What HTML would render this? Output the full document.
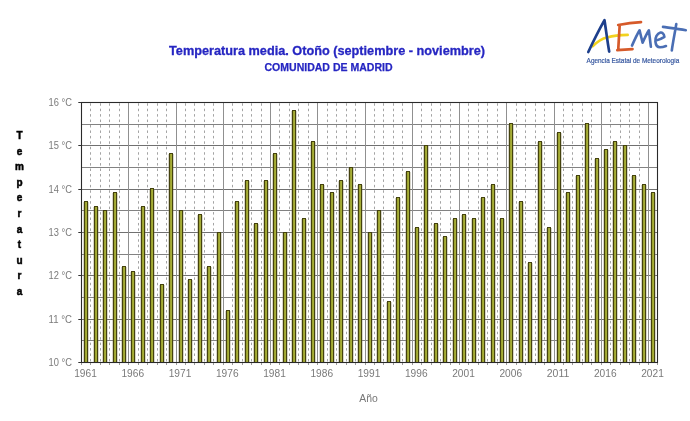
<!DOCTYPE html><html><head><meta charset="utf-8"><title>Temperatura media</title><style>html,body{margin:0;padding:0;background:#fff;width:690px;height:421px;overflow:hidden}svg{display:block;will-change:transform}text{font-family:"Liberation Sans",sans-serif}</style></head><body>
<svg width="690" height="421" viewBox="0 0 690 421">
<defs><linearGradient id="bg" x1="0" x2="1" y1="0" y2="0"><stop offset="0" stop-color="#86881f"/><stop offset="0.55" stop-color="#acb43c"/><stop offset="1" stop-color="#969e2e"/></linearGradient></defs>
<rect width="690" height="421" fill="#fff"/>
<text x="327" y="54.5" text-anchor="middle" font-weight="bold" font-size="12.7" fill="#2626c2" stroke="#2626c2" stroke-width="0.3" textLength="316" lengthAdjust="spacingAndGlyphs">Temperatura media. Otoño (septiembre - noviembre)</text>
<text x="328.5" y="70.8" text-anchor="middle" font-weight="bold" font-size="10.5" fill="#2626c2" stroke="#2626c2" stroke-width="0.25" textLength="128" lengthAdjust="spacingAndGlyphs">COMUNIDAD DE MADRID</text>
<line x1="81.0" x2="657.5" y1="340.50" y2="340.50" stroke="#828282" stroke-width="1"/>
<line x1="81.0" x2="657.5" y1="319.50" y2="319.50" stroke="#707070" stroke-width="1"/>
<line x1="81.0" x2="657.5" y1="297.50" y2="297.50" stroke="#828282" stroke-width="1"/>
<line x1="81.0" x2="657.5" y1="275.50" y2="275.50" stroke="#707070" stroke-width="1"/>
<line x1="81.0" x2="657.5" y1="254.50" y2="254.50" stroke="#828282" stroke-width="1"/>
<line x1="81.0" x2="657.5" y1="232.50" y2="232.50" stroke="#707070" stroke-width="1"/>
<line x1="81.0" x2="657.5" y1="210.50" y2="210.50" stroke="#828282" stroke-width="1"/>
<line x1="81.0" x2="657.5" y1="189.50" y2="189.50" stroke="#707070" stroke-width="1"/>
<line x1="81.0" x2="657.5" y1="167.50" y2="167.50" stroke="#828282" stroke-width="1"/>
<line x1="81.0" x2="657.5" y1="145.50" y2="145.50" stroke="#707070" stroke-width="1"/>
<line x1="81.0" x2="657.5" y1="124.50" y2="124.50" stroke="#828282" stroke-width="1"/>
<line x1="90.50" x2="90.50" y1="103.25" y2="362.5" stroke="#a4a4a4" stroke-width="1" stroke-dasharray="2.5 2.94"/>
<line x1="100.50" x2="100.50" y1="103.25" y2="362.5" stroke="#a4a4a4" stroke-width="1" stroke-dasharray="2.5 2.94"/>
<line x1="109.50" x2="109.50" y1="103.25" y2="362.5" stroke="#a4a4a4" stroke-width="1" stroke-dasharray="2.5 2.94"/>
<line x1="119.50" x2="119.50" y1="103.25" y2="362.5" stroke="#a4a4a4" stroke-width="1" stroke-dasharray="2.5 2.94"/>
<line x1="128.50" x2="128.50" y1="102.5" y2="362.5" stroke="#909090" stroke-width="1"/>
<line x1="138.50" x2="138.50" y1="103.25" y2="362.5" stroke="#a4a4a4" stroke-width="1" stroke-dasharray="2.5 2.94"/>
<line x1="147.50" x2="147.50" y1="103.25" y2="362.5" stroke="#a4a4a4" stroke-width="1" stroke-dasharray="2.5 2.94"/>
<line x1="157.50" x2="157.50" y1="103.25" y2="362.5" stroke="#a4a4a4" stroke-width="1" stroke-dasharray="2.5 2.94"/>
<line x1="166.50" x2="166.50" y1="103.25" y2="362.5" stroke="#a4a4a4" stroke-width="1" stroke-dasharray="2.5 2.94"/>
<line x1="176.50" x2="176.50" y1="102.5" y2="362.5" stroke="#909090" stroke-width="1"/>
<line x1="185.50" x2="185.50" y1="103.25" y2="362.5" stroke="#a4a4a4" stroke-width="1" stroke-dasharray="2.5 2.94"/>
<line x1="194.50" x2="194.50" y1="103.25" y2="362.5" stroke="#a4a4a4" stroke-width="1" stroke-dasharray="2.5 2.94"/>
<line x1="204.50" x2="204.50" y1="103.25" y2="362.5" stroke="#a4a4a4" stroke-width="1" stroke-dasharray="2.5 2.94"/>
<line x1="213.50" x2="213.50" y1="103.25" y2="362.5" stroke="#a4a4a4" stroke-width="1" stroke-dasharray="2.5 2.94"/>
<line x1="223.50" x2="223.50" y1="102.5" y2="362.5" stroke="#909090" stroke-width="1"/>
<line x1="232.50" x2="232.50" y1="103.25" y2="362.5" stroke="#a4a4a4" stroke-width="1" stroke-dasharray="2.5 2.94"/>
<line x1="242.50" x2="242.50" y1="103.25" y2="362.5" stroke="#a4a4a4" stroke-width="1" stroke-dasharray="2.5 2.94"/>
<line x1="251.50" x2="251.50" y1="103.25" y2="362.5" stroke="#a4a4a4" stroke-width="1" stroke-dasharray="2.5 2.94"/>
<line x1="261.50" x2="261.50" y1="103.25" y2="362.5" stroke="#a4a4a4" stroke-width="1" stroke-dasharray="2.5 2.94"/>
<line x1="270.50" x2="270.50" y1="102.5" y2="362.5" stroke="#909090" stroke-width="1"/>
<line x1="279.50" x2="279.50" y1="103.25" y2="362.5" stroke="#a4a4a4" stroke-width="1" stroke-dasharray="2.5 2.94"/>
<line x1="289.50" x2="289.50" y1="103.25" y2="362.5" stroke="#a4a4a4" stroke-width="1" stroke-dasharray="2.5 2.94"/>
<line x1="298.50" x2="298.50" y1="103.25" y2="362.5" stroke="#a4a4a4" stroke-width="1" stroke-dasharray="2.5 2.94"/>
<line x1="308.50" x2="308.50" y1="103.25" y2="362.5" stroke="#a4a4a4" stroke-width="1" stroke-dasharray="2.5 2.94"/>
<line x1="317.50" x2="317.50" y1="102.5" y2="362.5" stroke="#909090" stroke-width="1"/>
<line x1="327.50" x2="327.50" y1="103.25" y2="362.5" stroke="#a4a4a4" stroke-width="1" stroke-dasharray="2.5 2.94"/>
<line x1="336.50" x2="336.50" y1="103.25" y2="362.5" stroke="#a4a4a4" stroke-width="1" stroke-dasharray="2.5 2.94"/>
<line x1="346.50" x2="346.50" y1="103.25" y2="362.5" stroke="#a4a4a4" stroke-width="1" stroke-dasharray="2.5 2.94"/>
<line x1="355.50" x2="355.50" y1="103.25" y2="362.5" stroke="#a4a4a4" stroke-width="1" stroke-dasharray="2.5 2.94"/>
<line x1="365.50" x2="365.50" y1="102.5" y2="362.5" stroke="#909090" stroke-width="1"/>
<line x1="374.50" x2="374.50" y1="103.25" y2="362.5" stroke="#a4a4a4" stroke-width="1" stroke-dasharray="2.5 2.94"/>
<line x1="383.50" x2="383.50" y1="103.25" y2="362.5" stroke="#a4a4a4" stroke-width="1" stroke-dasharray="2.5 2.94"/>
<line x1="393.50" x2="393.50" y1="103.25" y2="362.5" stroke="#a4a4a4" stroke-width="1" stroke-dasharray="2.5 2.94"/>
<line x1="402.50" x2="402.50" y1="103.25" y2="362.5" stroke="#a4a4a4" stroke-width="1" stroke-dasharray="2.5 2.94"/>
<line x1="412.50" x2="412.50" y1="102.5" y2="362.5" stroke="#909090" stroke-width="1"/>
<line x1="421.50" x2="421.50" y1="103.25" y2="362.5" stroke="#a4a4a4" stroke-width="1" stroke-dasharray="2.5 2.94"/>
<line x1="431.50" x2="431.50" y1="103.25" y2="362.5" stroke="#a4a4a4" stroke-width="1" stroke-dasharray="2.5 2.94"/>
<line x1="440.50" x2="440.50" y1="103.25" y2="362.5" stroke="#a4a4a4" stroke-width="1" stroke-dasharray="2.5 2.94"/>
<line x1="450.50" x2="450.50" y1="103.25" y2="362.5" stroke="#a4a4a4" stroke-width="1" stroke-dasharray="2.5 2.94"/>
<line x1="459.50" x2="459.50" y1="102.5" y2="362.5" stroke="#909090" stroke-width="1"/>
<line x1="468.50" x2="468.50" y1="103.25" y2="362.5" stroke="#a4a4a4" stroke-width="1" stroke-dasharray="2.5 2.94"/>
<line x1="478.50" x2="478.50" y1="103.25" y2="362.5" stroke="#a4a4a4" stroke-width="1" stroke-dasharray="2.5 2.94"/>
<line x1="487.50" x2="487.50" y1="103.25" y2="362.5" stroke="#a4a4a4" stroke-width="1" stroke-dasharray="2.5 2.94"/>
<line x1="497.50" x2="497.50" y1="103.25" y2="362.5" stroke="#a4a4a4" stroke-width="1" stroke-dasharray="2.5 2.94"/>
<line x1="506.50" x2="506.50" y1="102.5" y2="362.5" stroke="#909090" stroke-width="1"/>
<line x1="516.50" x2="516.50" y1="103.25" y2="362.5" stroke="#a4a4a4" stroke-width="1" stroke-dasharray="2.5 2.94"/>
<line x1="525.50" x2="525.50" y1="103.25" y2="362.5" stroke="#a4a4a4" stroke-width="1" stroke-dasharray="2.5 2.94"/>
<line x1="535.50" x2="535.50" y1="103.25" y2="362.5" stroke="#a4a4a4" stroke-width="1" stroke-dasharray="2.5 2.94"/>
<line x1="544.50" x2="544.50" y1="103.25" y2="362.5" stroke="#a4a4a4" stroke-width="1" stroke-dasharray="2.5 2.94"/>
<line x1="554.50" x2="554.50" y1="102.5" y2="362.5" stroke="#909090" stroke-width="1"/>
<line x1="563.50" x2="563.50" y1="103.25" y2="362.5" stroke="#a4a4a4" stroke-width="1" stroke-dasharray="2.5 2.94"/>
<line x1="572.50" x2="572.50" y1="103.25" y2="362.5" stroke="#a4a4a4" stroke-width="1" stroke-dasharray="2.5 2.94"/>
<line x1="582.50" x2="582.50" y1="103.25" y2="362.5" stroke="#a4a4a4" stroke-width="1" stroke-dasharray="2.5 2.94"/>
<line x1="591.50" x2="591.50" y1="103.25" y2="362.5" stroke="#a4a4a4" stroke-width="1" stroke-dasharray="2.5 2.94"/>
<line x1="601.50" x2="601.50" y1="102.5" y2="362.5" stroke="#909090" stroke-width="1"/>
<line x1="610.50" x2="610.50" y1="103.25" y2="362.5" stroke="#a4a4a4" stroke-width="1" stroke-dasharray="2.5 2.94"/>
<line x1="620.50" x2="620.50" y1="103.25" y2="362.5" stroke="#a4a4a4" stroke-width="1" stroke-dasharray="2.5 2.94"/>
<line x1="629.50" x2="629.50" y1="103.25" y2="362.5" stroke="#a4a4a4" stroke-width="1" stroke-dasharray="2.5 2.94"/>
<line x1="639.50" x2="639.50" y1="103.25" y2="362.5" stroke="#a4a4a4" stroke-width="1" stroke-dasharray="2.5 2.94"/>
<line x1="648.50" x2="648.50" y1="102.5" y2="362.5" stroke="#909090" stroke-width="1"/>
<line x1="81.50" x2="81.50" y1="362.5" y2="365.0" stroke="#9a9a9a" stroke-width="1"/>
<line x1="90.50" x2="90.50" y1="362.5" y2="365.0" stroke="#9a9a9a" stroke-width="1"/>
<line x1="100.50" x2="100.50" y1="362.5" y2="365.0" stroke="#9a9a9a" stroke-width="1"/>
<line x1="109.50" x2="109.50" y1="362.5" y2="365.0" stroke="#9a9a9a" stroke-width="1"/>
<line x1="119.50" x2="119.50" y1="362.5" y2="365.0" stroke="#9a9a9a" stroke-width="1"/>
<line x1="128.50" x2="128.50" y1="362.5" y2="365.0" stroke="#9a9a9a" stroke-width="1"/>
<line x1="138.50" x2="138.50" y1="362.5" y2="365.0" stroke="#9a9a9a" stroke-width="1"/>
<line x1="147.50" x2="147.50" y1="362.5" y2="365.0" stroke="#9a9a9a" stroke-width="1"/>
<line x1="157.50" x2="157.50" y1="362.5" y2="365.0" stroke="#9a9a9a" stroke-width="1"/>
<line x1="166.50" x2="166.50" y1="362.5" y2="365.0" stroke="#9a9a9a" stroke-width="1"/>
<line x1="176.50" x2="176.50" y1="362.5" y2="365.0" stroke="#9a9a9a" stroke-width="1"/>
<line x1="185.50" x2="185.50" y1="362.5" y2="365.0" stroke="#9a9a9a" stroke-width="1"/>
<line x1="194.50" x2="194.50" y1="362.5" y2="365.0" stroke="#9a9a9a" stroke-width="1"/>
<line x1="204.50" x2="204.50" y1="362.5" y2="365.0" stroke="#9a9a9a" stroke-width="1"/>
<line x1="213.50" x2="213.50" y1="362.5" y2="365.0" stroke="#9a9a9a" stroke-width="1"/>
<line x1="223.50" x2="223.50" y1="362.5" y2="365.0" stroke="#9a9a9a" stroke-width="1"/>
<line x1="232.50" x2="232.50" y1="362.5" y2="365.0" stroke="#9a9a9a" stroke-width="1"/>
<line x1="242.50" x2="242.50" y1="362.5" y2="365.0" stroke="#9a9a9a" stroke-width="1"/>
<line x1="251.50" x2="251.50" y1="362.5" y2="365.0" stroke="#9a9a9a" stroke-width="1"/>
<line x1="261.50" x2="261.50" y1="362.5" y2="365.0" stroke="#9a9a9a" stroke-width="1"/>
<line x1="270.50" x2="270.50" y1="362.5" y2="365.0" stroke="#9a9a9a" stroke-width="1"/>
<line x1="279.50" x2="279.50" y1="362.5" y2="365.0" stroke="#9a9a9a" stroke-width="1"/>
<line x1="289.50" x2="289.50" y1="362.5" y2="365.0" stroke="#9a9a9a" stroke-width="1"/>
<line x1="298.50" x2="298.50" y1="362.5" y2="365.0" stroke="#9a9a9a" stroke-width="1"/>
<line x1="308.50" x2="308.50" y1="362.5" y2="365.0" stroke="#9a9a9a" stroke-width="1"/>
<line x1="317.50" x2="317.50" y1="362.5" y2="365.0" stroke="#9a9a9a" stroke-width="1"/>
<line x1="327.50" x2="327.50" y1="362.5" y2="365.0" stroke="#9a9a9a" stroke-width="1"/>
<line x1="336.50" x2="336.50" y1="362.5" y2="365.0" stroke="#9a9a9a" stroke-width="1"/>
<line x1="346.50" x2="346.50" y1="362.5" y2="365.0" stroke="#9a9a9a" stroke-width="1"/>
<line x1="355.50" x2="355.50" y1="362.5" y2="365.0" stroke="#9a9a9a" stroke-width="1"/>
<line x1="365.50" x2="365.50" y1="362.5" y2="365.0" stroke="#9a9a9a" stroke-width="1"/>
<line x1="374.50" x2="374.50" y1="362.5" y2="365.0" stroke="#9a9a9a" stroke-width="1"/>
<line x1="383.50" x2="383.50" y1="362.5" y2="365.0" stroke="#9a9a9a" stroke-width="1"/>
<line x1="393.50" x2="393.50" y1="362.5" y2="365.0" stroke="#9a9a9a" stroke-width="1"/>
<line x1="402.50" x2="402.50" y1="362.5" y2="365.0" stroke="#9a9a9a" stroke-width="1"/>
<line x1="412.50" x2="412.50" y1="362.5" y2="365.0" stroke="#9a9a9a" stroke-width="1"/>
<line x1="421.50" x2="421.50" y1="362.5" y2="365.0" stroke="#9a9a9a" stroke-width="1"/>
<line x1="431.50" x2="431.50" y1="362.5" y2="365.0" stroke="#9a9a9a" stroke-width="1"/>
<line x1="440.50" x2="440.50" y1="362.5" y2="365.0" stroke="#9a9a9a" stroke-width="1"/>
<line x1="450.50" x2="450.50" y1="362.5" y2="365.0" stroke="#9a9a9a" stroke-width="1"/>
<line x1="459.50" x2="459.50" y1="362.5" y2="365.0" stroke="#9a9a9a" stroke-width="1"/>
<line x1="468.50" x2="468.50" y1="362.5" y2="365.0" stroke="#9a9a9a" stroke-width="1"/>
<line x1="478.50" x2="478.50" y1="362.5" y2="365.0" stroke="#9a9a9a" stroke-width="1"/>
<line x1="487.50" x2="487.50" y1="362.5" y2="365.0" stroke="#9a9a9a" stroke-width="1"/>
<line x1="497.50" x2="497.50" y1="362.5" y2="365.0" stroke="#9a9a9a" stroke-width="1"/>
<line x1="506.50" x2="506.50" y1="362.5" y2="365.0" stroke="#9a9a9a" stroke-width="1"/>
<line x1="516.50" x2="516.50" y1="362.5" y2="365.0" stroke="#9a9a9a" stroke-width="1"/>
<line x1="525.50" x2="525.50" y1="362.5" y2="365.0" stroke="#9a9a9a" stroke-width="1"/>
<line x1="535.50" x2="535.50" y1="362.5" y2="365.0" stroke="#9a9a9a" stroke-width="1"/>
<line x1="544.50" x2="544.50" y1="362.5" y2="365.0" stroke="#9a9a9a" stroke-width="1"/>
<line x1="554.50" x2="554.50" y1="362.5" y2="365.0" stroke="#9a9a9a" stroke-width="1"/>
<line x1="563.50" x2="563.50" y1="362.5" y2="365.0" stroke="#9a9a9a" stroke-width="1"/>
<line x1="572.50" x2="572.50" y1="362.5" y2="365.0" stroke="#9a9a9a" stroke-width="1"/>
<line x1="582.50" x2="582.50" y1="362.5" y2="365.0" stroke="#9a9a9a" stroke-width="1"/>
<line x1="591.50" x2="591.50" y1="362.5" y2="365.0" stroke="#9a9a9a" stroke-width="1"/>
<line x1="601.50" x2="601.50" y1="362.5" y2="365.0" stroke="#9a9a9a" stroke-width="1"/>
<line x1="610.50" x2="610.50" y1="362.5" y2="365.0" stroke="#9a9a9a" stroke-width="1"/>
<line x1="620.50" x2="620.50" y1="362.5" y2="365.0" stroke="#9a9a9a" stroke-width="1"/>
<line x1="629.50" x2="629.50" y1="362.5" y2="365.0" stroke="#9a9a9a" stroke-width="1"/>
<line x1="639.50" x2="639.50" y1="362.5" y2="365.0" stroke="#9a9a9a" stroke-width="1"/>
<line x1="648.50" x2="648.50" y1="362.5" y2="365.0" stroke="#9a9a9a" stroke-width="1"/>
<line x1="657.50" x2="657.50" y1="362.5" y2="365.0" stroke="#9a9a9a" stroke-width="1"/>
<rect x="83" y="202" width="6" height="160.50" fill="#7a7450" fill-opacity="0.3"/>
<rect x="84.5" y="201.5" width="3" height="161.00" fill="url(#bg)" stroke="#44420e" stroke-width="1"/>
<rect x="93" y="207" width="6" height="155.50" fill="#7a7450" fill-opacity="0.3"/>
<rect x="94.5" y="206.5" width="3" height="156.00" fill="url(#bg)" stroke="#44420e" stroke-width="1"/>
<rect x="102" y="211" width="6" height="151.50" fill="#7a7450" fill-opacity="0.3"/>
<rect x="103.5" y="210.5" width="3" height="152.00" fill="url(#bg)" stroke="#44420e" stroke-width="1"/>
<rect x="112" y="193" width="6" height="169.50" fill="#7a7450" fill-opacity="0.3"/>
<rect x="113.5" y="192.5" width="3" height="170.00" fill="url(#bg)" stroke="#44420e" stroke-width="1"/>
<rect x="121" y="267" width="6" height="95.50" fill="#7a7450" fill-opacity="0.3"/>
<rect x="122.5" y="266.5" width="3" height="96.00" fill="url(#bg)" stroke="#44420e" stroke-width="1"/>
<rect x="130" y="272" width="6" height="90.50" fill="#7a7450" fill-opacity="0.3"/>
<rect x="131.5" y="271.5" width="3" height="91.00" fill="url(#bg)" stroke="#44420e" stroke-width="1"/>
<rect x="140" y="207" width="6" height="155.50" fill="#7a7450" fill-opacity="0.3"/>
<rect x="141.5" y="206.5" width="3" height="156.00" fill="url(#bg)" stroke="#44420e" stroke-width="1"/>
<rect x="149" y="189" width="6" height="173.50" fill="#7a7450" fill-opacity="0.3"/>
<rect x="150.5" y="188.5" width="3" height="174.00" fill="url(#bg)" stroke="#44420e" stroke-width="1"/>
<rect x="159" y="285" width="6" height="77.50" fill="#7a7450" fill-opacity="0.3"/>
<rect x="160.5" y="284.5" width="3" height="78.00" fill="url(#bg)" stroke="#44420e" stroke-width="1"/>
<rect x="168" y="154" width="6" height="208.50" fill="#7a7450" fill-opacity="0.3"/>
<rect x="169.5" y="153.5" width="3" height="209.00" fill="url(#bg)" stroke="#44420e" stroke-width="1"/>
<rect x="178" y="211" width="6" height="151.50" fill="#7a7450" fill-opacity="0.3"/>
<rect x="179.5" y="210.5" width="3" height="152.00" fill="url(#bg)" stroke="#44420e" stroke-width="1"/>
<rect x="187" y="280" width="6" height="82.50" fill="#7a7450" fill-opacity="0.3"/>
<rect x="188.5" y="279.5" width="3" height="83.00" fill="url(#bg)" stroke="#44420e" stroke-width="1"/>
<rect x="197" y="215" width="6" height="147.50" fill="#7a7450" fill-opacity="0.3"/>
<rect x="198.5" y="214.5" width="3" height="148.00" fill="url(#bg)" stroke="#44420e" stroke-width="1"/>
<rect x="206" y="267" width="6" height="95.50" fill="#7a7450" fill-opacity="0.3"/>
<rect x="207.5" y="266.5" width="3" height="96.00" fill="url(#bg)" stroke="#44420e" stroke-width="1"/>
<rect x="216" y="233" width="6" height="129.50" fill="#7a7450" fill-opacity="0.3"/>
<rect x="217.5" y="232.5" width="3" height="130.00" fill="url(#bg)" stroke="#44420e" stroke-width="1"/>
<rect x="225" y="311" width="6" height="51.50" fill="#7a7450" fill-opacity="0.3"/>
<rect x="226.5" y="310.5" width="3" height="52.00" fill="url(#bg)" stroke="#44420e" stroke-width="1"/>
<rect x="234" y="202" width="6" height="160.50" fill="#7a7450" fill-opacity="0.3"/>
<rect x="235.5" y="201.5" width="3" height="161.00" fill="url(#bg)" stroke="#44420e" stroke-width="1"/>
<rect x="244" y="181" width="6" height="181.50" fill="#7a7450" fill-opacity="0.3"/>
<rect x="245.5" y="180.5" width="3" height="182.00" fill="url(#bg)" stroke="#44420e" stroke-width="1"/>
<rect x="253" y="224" width="6" height="138.50" fill="#7a7450" fill-opacity="0.3"/>
<rect x="254.5" y="223.5" width="3" height="139.00" fill="url(#bg)" stroke="#44420e" stroke-width="1"/>
<rect x="263" y="181" width="6" height="181.50" fill="#7a7450" fill-opacity="0.3"/>
<rect x="264.5" y="180.5" width="3" height="182.00" fill="url(#bg)" stroke="#44420e" stroke-width="1"/>
<rect x="272" y="154" width="6" height="208.50" fill="#7a7450" fill-opacity="0.3"/>
<rect x="273.5" y="153.5" width="3" height="209.00" fill="url(#bg)" stroke="#44420e" stroke-width="1"/>
<rect x="282" y="233" width="6" height="129.50" fill="#7a7450" fill-opacity="0.3"/>
<rect x="283.5" y="232.5" width="3" height="130.00" fill="url(#bg)" stroke="#44420e" stroke-width="1"/>
<rect x="291" y="111" width="6" height="251.50" fill="#7a7450" fill-opacity="0.3"/>
<rect x="292.5" y="110.5" width="3" height="252.00" fill="url(#bg)" stroke="#44420e" stroke-width="1"/>
<rect x="301" y="219" width="6" height="143.50" fill="#7a7450" fill-opacity="0.3"/>
<rect x="302.5" y="218.5" width="3" height="144.00" fill="url(#bg)" stroke="#44420e" stroke-width="1"/>
<rect x="310" y="142" width="6" height="220.50" fill="#7a7450" fill-opacity="0.3"/>
<rect x="311.5" y="141.5" width="3" height="221.00" fill="url(#bg)" stroke="#44420e" stroke-width="1"/>
<rect x="319" y="185" width="6" height="177.50" fill="#7a7450" fill-opacity="0.3"/>
<rect x="320.5" y="184.5" width="3" height="178.00" fill="url(#bg)" stroke="#44420e" stroke-width="1"/>
<rect x="329" y="193" width="6" height="169.50" fill="#7a7450" fill-opacity="0.3"/>
<rect x="330.5" y="192.5" width="3" height="170.00" fill="url(#bg)" stroke="#44420e" stroke-width="1"/>
<rect x="338" y="181" width="6" height="181.50" fill="#7a7450" fill-opacity="0.3"/>
<rect x="339.5" y="180.5" width="3" height="182.00" fill="url(#bg)" stroke="#44420e" stroke-width="1"/>
<rect x="348" y="168" width="6" height="194.50" fill="#7a7450" fill-opacity="0.3"/>
<rect x="349.5" y="167.5" width="3" height="195.00" fill="url(#bg)" stroke="#44420e" stroke-width="1"/>
<rect x="357" y="185" width="6" height="177.50" fill="#7a7450" fill-opacity="0.3"/>
<rect x="358.5" y="184.5" width="3" height="178.00" fill="url(#bg)" stroke="#44420e" stroke-width="1"/>
<rect x="367" y="233" width="6" height="129.50" fill="#7a7450" fill-opacity="0.3"/>
<rect x="368.5" y="232.5" width="3" height="130.00" fill="url(#bg)" stroke="#44420e" stroke-width="1"/>
<rect x="376" y="211" width="6" height="151.50" fill="#7a7450" fill-opacity="0.3"/>
<rect x="377.5" y="210.5" width="3" height="152.00" fill="url(#bg)" stroke="#44420e" stroke-width="1"/>
<rect x="386" y="302" width="6" height="60.50" fill="#7a7450" fill-opacity="0.3"/>
<rect x="387.5" y="301.5" width="3" height="61.00" fill="url(#bg)" stroke="#44420e" stroke-width="1"/>
<rect x="395" y="198" width="6" height="164.50" fill="#7a7450" fill-opacity="0.3"/>
<rect x="396.5" y="197.5" width="3" height="165.00" fill="url(#bg)" stroke="#44420e" stroke-width="1"/>
<rect x="405" y="172" width="6" height="190.50" fill="#7a7450" fill-opacity="0.3"/>
<rect x="406.5" y="171.5" width="3" height="191.00" fill="url(#bg)" stroke="#44420e" stroke-width="1"/>
<rect x="414" y="228" width="6" height="134.50" fill="#7a7450" fill-opacity="0.3"/>
<rect x="415.5" y="227.5" width="3" height="135.00" fill="url(#bg)" stroke="#44420e" stroke-width="1"/>
<rect x="423" y="146" width="6" height="216.50" fill="#7a7450" fill-opacity="0.3"/>
<rect x="424.5" y="145.5" width="3" height="217.00" fill="url(#bg)" stroke="#44420e" stroke-width="1"/>
<rect x="433" y="224" width="6" height="138.50" fill="#7a7450" fill-opacity="0.3"/>
<rect x="434.5" y="223.5" width="3" height="139.00" fill="url(#bg)" stroke="#44420e" stroke-width="1"/>
<rect x="442" y="237" width="6" height="125.50" fill="#7a7450" fill-opacity="0.3"/>
<rect x="443.5" y="236.5" width="3" height="126.00" fill="url(#bg)" stroke="#44420e" stroke-width="1"/>
<rect x="452" y="219" width="6" height="143.50" fill="#7a7450" fill-opacity="0.3"/>
<rect x="453.5" y="218.5" width="3" height="144.00" fill="url(#bg)" stroke="#44420e" stroke-width="1"/>
<rect x="461" y="215" width="6" height="147.50" fill="#7a7450" fill-opacity="0.3"/>
<rect x="462.5" y="214.5" width="3" height="148.00" fill="url(#bg)" stroke="#44420e" stroke-width="1"/>
<rect x="471" y="219" width="6" height="143.50" fill="#7a7450" fill-opacity="0.3"/>
<rect x="472.5" y="218.5" width="3" height="144.00" fill="url(#bg)" stroke="#44420e" stroke-width="1"/>
<rect x="480" y="198" width="6" height="164.50" fill="#7a7450" fill-opacity="0.3"/>
<rect x="481.5" y="197.5" width="3" height="165.00" fill="url(#bg)" stroke="#44420e" stroke-width="1"/>
<rect x="490" y="185" width="6" height="177.50" fill="#7a7450" fill-opacity="0.3"/>
<rect x="491.5" y="184.5" width="3" height="178.00" fill="url(#bg)" stroke="#44420e" stroke-width="1"/>
<rect x="499" y="219" width="6" height="143.50" fill="#7a7450" fill-opacity="0.3"/>
<rect x="500.5" y="218.5" width="3" height="144.00" fill="url(#bg)" stroke="#44420e" stroke-width="1"/>
<rect x="508" y="124" width="6" height="238.50" fill="#7a7450" fill-opacity="0.3"/>
<rect x="509.5" y="123.5" width="3" height="239.00" fill="url(#bg)" stroke="#44420e" stroke-width="1"/>
<rect x="518" y="202" width="6" height="160.50" fill="#7a7450" fill-opacity="0.3"/>
<rect x="519.5" y="201.5" width="3" height="161.00" fill="url(#bg)" stroke="#44420e" stroke-width="1"/>
<rect x="527" y="263" width="6" height="99.50" fill="#7a7450" fill-opacity="0.3"/>
<rect x="528.5" y="262.5" width="3" height="100.00" fill="url(#bg)" stroke="#44420e" stroke-width="1"/>
<rect x="537" y="142" width="6" height="220.50" fill="#7a7450" fill-opacity="0.3"/>
<rect x="538.5" y="141.5" width="3" height="221.00" fill="url(#bg)" stroke="#44420e" stroke-width="1"/>
<rect x="546" y="228" width="6" height="134.50" fill="#7a7450" fill-opacity="0.3"/>
<rect x="547.5" y="227.5" width="3" height="135.00" fill="url(#bg)" stroke="#44420e" stroke-width="1"/>
<rect x="556" y="133" width="6" height="229.50" fill="#7a7450" fill-opacity="0.3"/>
<rect x="557.5" y="132.5" width="3" height="230.00" fill="url(#bg)" stroke="#44420e" stroke-width="1"/>
<rect x="565" y="193" width="6" height="169.50" fill="#7a7450" fill-opacity="0.3"/>
<rect x="566.5" y="192.5" width="3" height="170.00" fill="url(#bg)" stroke="#44420e" stroke-width="1"/>
<rect x="575" y="176" width="6" height="186.50" fill="#7a7450" fill-opacity="0.3"/>
<rect x="576.5" y="175.5" width="3" height="187.00" fill="url(#bg)" stroke="#44420e" stroke-width="1"/>
<rect x="584" y="124" width="6" height="238.50" fill="#7a7450" fill-opacity="0.3"/>
<rect x="585.5" y="123.5" width="3" height="239.00" fill="url(#bg)" stroke="#44420e" stroke-width="1"/>
<rect x="594" y="159" width="6" height="203.50" fill="#7a7450" fill-opacity="0.3"/>
<rect x="595.5" y="158.5" width="3" height="204.00" fill="url(#bg)" stroke="#44420e" stroke-width="1"/>
<rect x="603" y="150" width="6" height="212.50" fill="#7a7450" fill-opacity="0.3"/>
<rect x="604.5" y="149.5" width="3" height="213.00" fill="url(#bg)" stroke="#44420e" stroke-width="1"/>
<rect x="612" y="142" width="6" height="220.50" fill="#7a7450" fill-opacity="0.3"/>
<rect x="613.5" y="141.5" width="3" height="221.00" fill="url(#bg)" stroke="#44420e" stroke-width="1"/>
<rect x="622" y="146" width="6" height="216.50" fill="#7a7450" fill-opacity="0.3"/>
<rect x="623.5" y="145.5" width="3" height="217.00" fill="url(#bg)" stroke="#44420e" stroke-width="1"/>
<rect x="631" y="176" width="6" height="186.50" fill="#7a7450" fill-opacity="0.3"/>
<rect x="632.5" y="175.5" width="3" height="187.00" fill="url(#bg)" stroke="#44420e" stroke-width="1"/>
<rect x="641" y="185" width="6" height="177.50" fill="#7a7450" fill-opacity="0.3"/>
<rect x="642.5" y="184.5" width="3" height="178.00" fill="url(#bg)" stroke="#44420e" stroke-width="1"/>
<rect x="650" y="193" width="6" height="169.50" fill="#7a7450" fill-opacity="0.3"/>
<rect x="651.5" y="192.5" width="3" height="170.00" fill="url(#bg)" stroke="#44420e" stroke-width="1"/>
<rect x="81.5" y="102.5" width="576.0" height="260.0" fill="none" stroke="#2a2a2a" stroke-width="1.1"/>
<line x1="78.3" x2="81.5" y1="362.50" y2="362.50" stroke="#333" stroke-width="1"/>
<text x="72" y="366.30" text-anchor="end" font-size="10.5" fill="#7a7a7a" textLength="23.4" lengthAdjust="spacingAndGlyphs">10 °C</text>
<line x1="78.3" x2="81.5" y1="319.50" y2="319.50" stroke="#333" stroke-width="1"/>
<text x="72" y="323.30" text-anchor="end" font-size="10.5" fill="#7a7a7a" textLength="23.4" lengthAdjust="spacingAndGlyphs">11 °C</text>
<line x1="78.3" x2="81.5" y1="275.50" y2="275.50" stroke="#333" stroke-width="1"/>
<text x="72" y="279.30" text-anchor="end" font-size="10.5" fill="#7a7a7a" textLength="23.4" lengthAdjust="spacingAndGlyphs">12 °C</text>
<line x1="78.3" x2="81.5" y1="232.50" y2="232.50" stroke="#333" stroke-width="1"/>
<text x="72" y="236.30" text-anchor="end" font-size="10.5" fill="#7a7a7a" textLength="23.4" lengthAdjust="spacingAndGlyphs">13 °C</text>
<line x1="78.3" x2="81.5" y1="189.50" y2="189.50" stroke="#333" stroke-width="1"/>
<text x="72" y="193.30" text-anchor="end" font-size="10.5" fill="#7a7a7a" textLength="23.4" lengthAdjust="spacingAndGlyphs">14 °C</text>
<line x1="78.3" x2="81.5" y1="145.50" y2="145.50" stroke="#333" stroke-width="1"/>
<text x="72" y="149.30" text-anchor="end" font-size="10.5" fill="#7a7a7a" textLength="23.4" lengthAdjust="spacingAndGlyphs">15 °C</text>
<line x1="78.3" x2="81.5" y1="102.50" y2="102.50" stroke="#333" stroke-width="1"/>
<text x="72" y="106.30" text-anchor="end" font-size="10.5" fill="#7a7a7a" textLength="23.4" lengthAdjust="spacingAndGlyphs">16 °C</text>
<text x="85.52" y="377.4" text-anchor="middle" font-size="11.8" fill="#7a7a7a" textLength="22.6" lengthAdjust="spacingAndGlyphs">1961</text>
<text x="132.78" y="377.4" text-anchor="middle" font-size="11.8" fill="#7a7a7a" textLength="22.6" lengthAdjust="spacingAndGlyphs">1966</text>
<text x="180.03" y="377.4" text-anchor="middle" font-size="11.8" fill="#7a7a7a" textLength="22.6" lengthAdjust="spacingAndGlyphs">1971</text>
<text x="227.28" y="377.4" text-anchor="middle" font-size="11.8" fill="#7a7a7a" textLength="22.6" lengthAdjust="spacingAndGlyphs">1976</text>
<text x="274.53" y="377.4" text-anchor="middle" font-size="11.8" fill="#7a7a7a" textLength="22.6" lengthAdjust="spacingAndGlyphs">1981</text>
<text x="321.78" y="377.4" text-anchor="middle" font-size="11.8" fill="#7a7a7a" textLength="22.6" lengthAdjust="spacingAndGlyphs">1986</text>
<text x="369.02" y="377.4" text-anchor="middle" font-size="11.8" fill="#7a7a7a" textLength="22.6" lengthAdjust="spacingAndGlyphs">1991</text>
<text x="416.27" y="377.4" text-anchor="middle" font-size="11.8" fill="#7a7a7a" textLength="22.6" lengthAdjust="spacingAndGlyphs">1996</text>
<text x="463.52" y="377.4" text-anchor="middle" font-size="11.8" fill="#7a7a7a" textLength="22.6" lengthAdjust="spacingAndGlyphs">2001</text>
<text x="510.77" y="377.4" text-anchor="middle" font-size="11.8" fill="#7a7a7a" textLength="22.6" lengthAdjust="spacingAndGlyphs">2006</text>
<text x="558.02" y="377.4" text-anchor="middle" font-size="11.8" fill="#7a7a7a" textLength="22.6" lengthAdjust="spacingAndGlyphs">2011</text>
<text x="605.27" y="377.4" text-anchor="middle" font-size="11.8" fill="#7a7a7a" textLength="22.6" lengthAdjust="spacingAndGlyphs">2016</text>
<text x="652.52" y="377.4" text-anchor="middle" font-size="11.8" fill="#7a7a7a" textLength="22.6" lengthAdjust="spacingAndGlyphs">2021</text>
<text x="368.5" y="401.7" text-anchor="middle" font-size="11" fill="#777" textLength="18.5" lengthAdjust="spacingAndGlyphs">Año</text>
<text x="0" y="139.30" transform="translate(19.5,0) scale(0.95,1)" text-anchor="middle" font-weight="bold" font-size="10.5" fill="#000" stroke="#000" stroke-width="0.5">T</text>
<text x="0" y="154.85" transform="translate(19.5,0) scale(0.95,1)" text-anchor="middle" font-weight="bold" font-size="10.5" fill="#000" stroke="#000" stroke-width="0.5">e</text>
<text x="0" y="170.40" transform="translate(19.5,0) scale(0.95,1)" text-anchor="middle" font-weight="bold" font-size="10.5" fill="#000" stroke="#000" stroke-width="0.5">m</text>
<text x="0" y="185.95" transform="translate(19.5,0) scale(0.95,1)" text-anchor="middle" font-weight="bold" font-size="10.5" fill="#000" stroke="#000" stroke-width="0.5">p</text>
<text x="0" y="201.50" transform="translate(19.5,0) scale(0.95,1)" text-anchor="middle" font-weight="bold" font-size="10.5" fill="#000" stroke="#000" stroke-width="0.5">e</text>
<text x="0" y="217.05" transform="translate(19.5,0) scale(0.95,1)" text-anchor="middle" font-weight="bold" font-size="10.5" fill="#000" stroke="#000" stroke-width="0.5">r</text>
<text x="0" y="232.60" transform="translate(19.5,0) scale(0.95,1)" text-anchor="middle" font-weight="bold" font-size="10.5" fill="#000" stroke="#000" stroke-width="0.5">a</text>
<text x="0" y="248.15" transform="translate(19.5,0) scale(0.95,1)" text-anchor="middle" font-weight="bold" font-size="10.5" fill="#000" stroke="#000" stroke-width="0.5">t</text>
<text x="0" y="263.70" transform="translate(19.5,0) scale(0.95,1)" text-anchor="middle" font-weight="bold" font-size="10.5" fill="#000" stroke="#000" stroke-width="0.5">u</text>
<text x="0" y="279.25" transform="translate(19.5,0) scale(0.95,1)" text-anchor="middle" font-weight="bold" font-size="10.5" fill="#000" stroke="#000" stroke-width="0.5">r</text>
<text x="0" y="294.80" transform="translate(19.5,0) scale(0.95,1)" text-anchor="middle" font-weight="bold" font-size="10.5" fill="#000" stroke="#000" stroke-width="0.5">a</text>
<g fill="none" stroke-linecap="round" stroke-linejoin="round">
<path d="M592.6,46.3 C598,41 602,38.5 607,37.5 C614,35.5 621,35 627.7,34.9" stroke="#f2d21e" stroke-width="2.6"/>
<path d="M588.3,52 C593,42 599,30 604.5,20.2 C606,30 607.5,42 609.2,51.6" stroke="#1d3f8c" stroke-width="2.7"/>
<path d="M618.2,25 C626,23.5 634,22.5 641,22.1 M619.7,25 C619.2,33 618.7,42 618.2,50.1 M617.3,50.1 C622,49.8 627,49.5 632.5,49.2" stroke="#d65a2a" stroke-width="2.7"/>
<path d="M632,45.6 C634.5,40 637,34.5 639.6,30.3 C640.6,34.5 641.6,38.8 642.6,42.8 C644.5,38.5 646.5,34 648.9,30.3 C649.6,36 650.2,41.5 650.9,46.8" stroke="#4a6eb4" stroke-width="2.6"/>
<path d="M656,40.5 C659,40 662,38.5 664.4,36.9 C664,33.5 662,32.3 660.5,32.6 C657,33.5 655,37.5 655.4,41.5 C655.8,45.5 658,47.3 660,47.3 C662,47.3 664,46.8 666,46" stroke="#4a6eb4" stroke-width="2.6"/>
<path d="M676.3,24 C675,32 673,42 671.8,50.5 M663,26.9 C671,28 679,29 685.8,30.2" stroke="#4a6eb4" stroke-width="2.6"/>
</g>
<text x="633" y="62.8" text-anchor="middle" font-size="7.3" fill="#35569f" stroke="#35569f" stroke-width="0.2" textLength="92.8" lengthAdjust="spacingAndGlyphs">Agencia Estatal de Meteorología</text>
</svg></body></html>
